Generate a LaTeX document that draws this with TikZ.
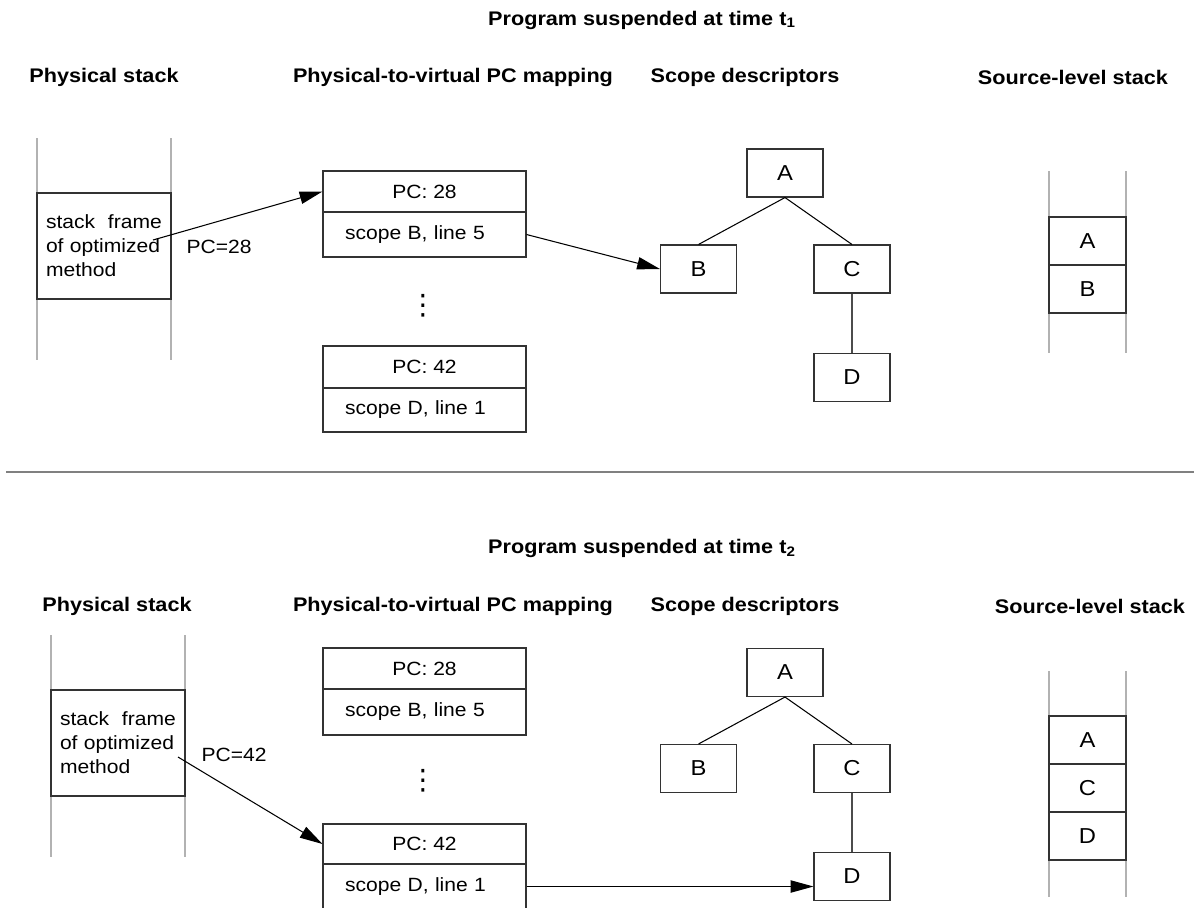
\documentclass[tikz,border=0pt]{standalone}
\usepackage{fontspec}
\setmainfont{Liberation Sans}[FakeStretch=1.1]
\newfontfamily\dotsfont{DejaVu Sans}
\usetikzlibrary{arrows.meta}

\begin{document}
\begin{tikzpicture}[x=0.02cm,y=-0.02cm,line width=0.6pt,
	>={Triangle[length=13pt,width=7pt]},
	every node/.style={font=\fontsize{10.9}{13.6}\selectfont},
	hdr/.style={font=\fontsize{11.2}{14}\selectfont\bfseries},
	cell/.style={draw=black!80,minimum width=4.06cm,inner sep=0pt},
	line/.style={cell,text width=3.18cm,inner xsep=0.44cm,align=left},
	scp/.style={draw=black!80,minimum width=1.52cm,minimum height=0.96cm,inner sep=0pt,font=\fontsize{12.3}{14}\selectfont},
	slot/.style={draw=black!80,minimum width=1.54cm,minimum height=0.96cm,inner sep=0pt,font=\fontsize{12.3}{14}\selectfont},
	frm/.style={draw=black!80,minimum width=2.68cm,minimum height=2.12cm,text width=2.32cm,align=left,inner sep=0.18cm},
	gap/.style={font=\fontsize{16}{18}\selectfont\dotsfont},
	wall/.style={black!30,line width=0.8pt}]
	\useasboundingbox (0,0) rectangle (1200,907);
	\clip (0,0) rectangle (1200,907);

	\node[hdr] (t1) at (642,20) {Program suspended at time t\textsubscript{1}};
	\node[hdr] (h1a) at (104,77) {Physical stack};
	\node[hdr] (h1b) at (453,77) {Physical-to-virtual PC mapping};
	\node[hdr] (h1c) at (745,77) {Scope descriptors};
	\node[hdr] (h1d) at (1073,77) {Source-level stack};

	\draw[wall] (37,138) -- (37,360) (171,138) -- (171,360);
	\node[frm] (fr1) at (104,246) {stack\ \ frame\\of optimized\\method};
	\coordinate (o1) at (153,240);
	\node (l1) at (219,247) {PC=28};

	\node[cell,minimum height=0.82cm] (m1a) at (424.5,191.5) {PC: 28};
	\node[line,minimum height=0.9cm] (m1b) at (424.5,234.5) {scope B, line 5};
	\node[gap] (d1) at (423,306) {⋮};
	\node[cell,minimum height=0.84cm] (m1c) at (424.5,367) {PC: 42};
	\node[line,minimum height=0.88cm] (m1d) at (424.5,410) {scope D, line 1};

	\node[scp] (A1) at (785,173) {A};
	\node[scp] (B1) at (698.5,269) {B};
	\node[scp] (C1) at (852,269) {C};
	\node[scp] (D1) at (852,377.5) {D};
	\draw (A1.south) -- (B1.north);
	\draw (A1.south) -- (C1.north);
	\draw[black!70] (C1) -- (D1);

	\draw[wall] (1049,171) -- (1049,353) (1126,171) -- (1126,353);
	\node[slot] (s1a) at (1087.5,241) {A};
	\node[slot] (s1b) at (1087.5,289) {B};

	\draw[->] (o1) -- (m1a.west);
	\draw[->] (m1b.east) -- (B1.west);

	\draw[black!50,line width=1.2pt] (6,472) -- (1194,472);

	\node[hdr] (t2) at (642,548) {Program suspended at time t\textsubscript{2}};
	\node[hdr] (h2a) at (117,606) {Physical stack};
	\node[hdr] (h2b) at (453,606) {Physical-to-virtual PC mapping};
	\node[hdr] (h2c) at (745,606) {Scope descriptors};
	\node[hdr] (h2d) at (1090,606) {Source-level stack};

	\draw[wall] (51,635) -- (51,857) (185,635) -- (185,857);
	\node[frm] (fr2) at (118,743) {stack\ \ frame\\of optimized\\method};
	\coordinate (o2) at (178,757);
	\node (l2) at (234,755) {PC=42};

	\node[cell,minimum height=0.82cm] (m2a) at (424.5,668.5) {PC: 28};
	\node[line,minimum height=0.92cm] (m2b) at (424.5,712) {scope B, line 5};
	\node[gap] (d2) at (423,781) {⋮};
	\node[cell,minimum height=0.8cm] (m2c) at (424.5,844) {PC: 42};
	\node[line,minimum height=0.9cm] (m2d) at (424.5,886.5) {scope D, line 1};

	\node[scp] (A2) at (785,672.5) {A};
	\node[scp] (B2) at (698.5,768.5) {B};
	\node[scp] (C2) at (852,768.5) {C};
	\node[scp] (D2) at (852,876.5) {D};
	\draw (A2.south) -- (B2.north);
	\draw (A2.south) -- (C2.north);
	\draw[black!70] (C2) -- (D2);

	\draw[wall] (1049,671) -- (1049,897) (1126,671) -- (1126,897);
	\node[slot] (s2a) at (1087.5,740) {A};
	\node[slot] (s2b) at (1087.5,788) {C};
	\node[slot] (s2c) at (1087.5,836) {D};

	\draw[->] (o2) -- (m2c.west);
	\draw[->] (m2d.east) -- (m2d.east -| D2.west);
\end{tikzpicture}
\end{document}
